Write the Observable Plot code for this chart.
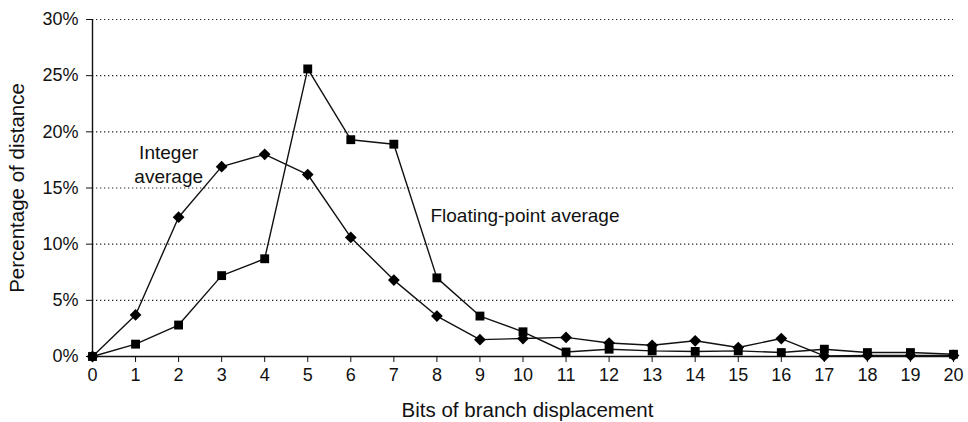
<!DOCTYPE html>
<html><head><meta charset="utf-8">
<script src="https://cdn.jsdelivr.net/npm/d3@7"></script>
<script src="https://cdn.jsdelivr.net/npm/@observablehq/plot@0.6"></script>
<style>body{margin:0;background:#fff}</style>
</head><body><div id="chart"></div>
<script>
const bits = [0,1,2,3,4,5,6,7,8,9,10,11,12,13,14,15,16,17,18,19,20];
const floatingPoint = [0,1.1,2.8,7.2,8.7,25.6,19.3,18.9,7.0,3.6,2.2,0.4,0.65,0.5,0.45,0.5,0.35,0.65,0.35,0.35,0.2];
const integer = [0,3.7,12.4,16.9,18.0,16.2,10.6,6.8,3.6,1.5,1.6,1.7,1.2,1.0,1.4,0.8,1.6,0.05,0.1,0.1,0.1];
const yTicks = [0,5,10,15,20,25,30];
const gridTicks = [5,10,15,20,25,30];
const xTitle = "Bits of branch displacement";
const yTitle = "Percentage of distance";
const integerLabel = [{x: 1.77, y: 17.2, text: "Integer\naverage"}];
const floatLabel = [{x: 7.85, y: 12.55, text: "Floating-point average"}];

const fp = bits.map((b,i) => ({b, v: floatingPoint[i]}));
const it = bits.map((b,i) => ({b, v: integer[i]}));

const chart = Plot.plot({
  width: 968,
  height: 422,
  marginLeft: 92,
  marginRight: 15,
  marginTop: 19,
  marginBottom: 66,
  style: {fontFamily: "'Liberation Sans', Arial, sans-serif", fontSize: "18px", color: "#111", background: "#fff"},
  x: {domain: [0, 20]},
  y: {domain: [0, 30]},
  marks: [
    Plot.ruleY(gridTicks, {stroke: "#222", strokeDasharray: "1.3,2.7", strokeWidth: 1.2}),
    Plot.ruleX([0], {y1: 0, y2: 30, stroke: "#111", strokeWidth: 1.4}),
    Plot.ruleY([0], {stroke: "#111", strokeWidth: 1.4}),
    Plot.axisX({ticks: bits, tickSize: 6, tickPadding: 6, tickFormat: d => String(d), fontSize: 18, label: null}),
    Plot.axisY({ticks: yTicks, tickSize: 6, tickPadding: 8, tickFormat: d => d + "%", fontSize: 18, label: null}),
    Plot.text([xTitle], {frameAnchor: "bottom", text: d => d, dy: 54, dx: 4.5, textAnchor: "middle", lineAnchor: "middle", fontSize: 20.5, fill: "#111"}),
    Plot.text([yTitle], {frameAnchor: "left", text: d => d, dx: -75, rotate: -90, textAnchor: "middle", lineAnchor: "middle", fontSize: 20.5, fill: "#111"}),
    Plot.line(fp, {x: "b", y: "v", stroke: "#111", strokeWidth: 1.4}),
    Plot.line(it, {x: "b", y: "v", stroke: "#111", strokeWidth: 1.4}),
    Plot.dot(fp, {x: "b", y: "v", symbol: "square", r: 5, fill: "#000"}),
    Plot.dot(it, {x: "b", y: "v", symbol: "diamond2", r: 5.3, fill: "#000"}),
    Plot.text(integerLabel, {x: "x", y: "y", text: "text", textAnchor: "middle", fontSize: 19, lineHeight: 1.25, fill: "#111"}),
    Plot.text(floatLabel, {x: "x", y: "y", text: "text", textAnchor: "start", fontSize: 19, fill: "#111"})
  ]
});
document.getElementById("chart").appendChild(chart);
</script>
</body></html>
